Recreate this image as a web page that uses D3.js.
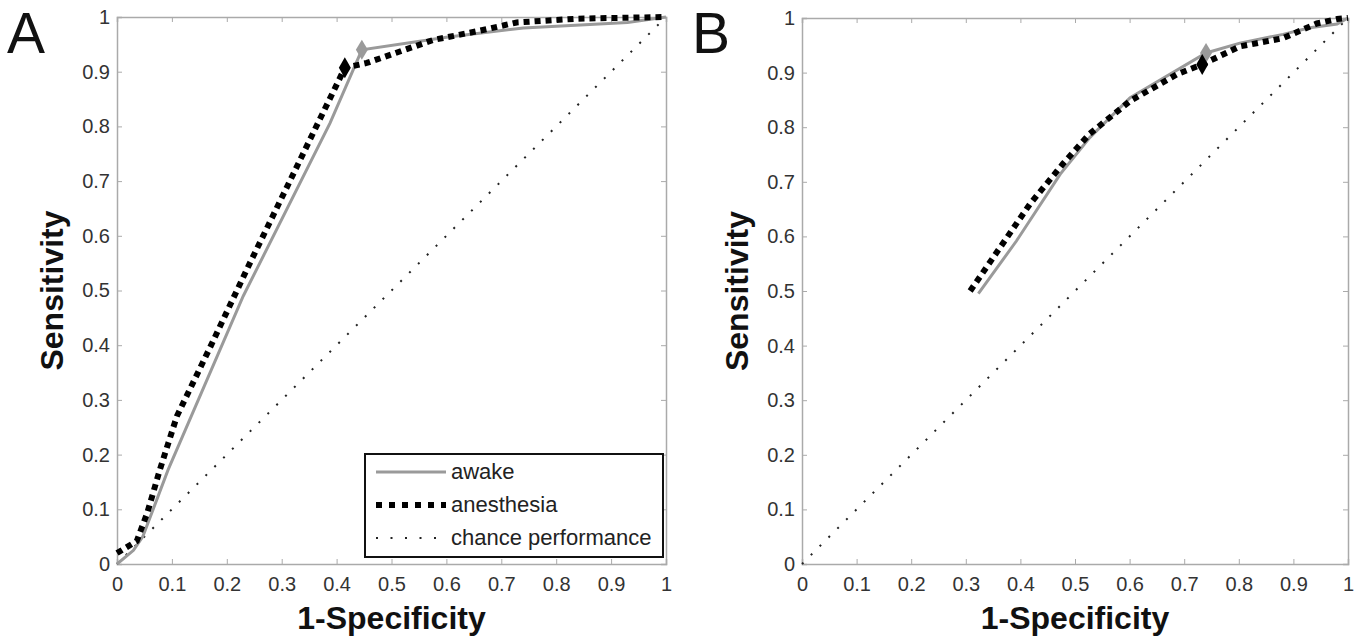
<!DOCTYPE html>
<html>
<head>
<meta charset="utf-8">
<style>
  body { margin: 0; background: #fff; }
  svg { display: block; font-family: "Liberation Sans", Arial, Helvetica, sans-serif; }
  .tick text { fill: #333; font-size: 20px; }
</style>
</head>
<body>
<svg width="1366" height="641"></svg>
<script src="https://d3js.org/d3.v7.min.js"></script>
<script>

// values: [1-specificity, sensitivity]
var awakeA = [[0, 0], [0.03, 0.025], [0.047, 0.05], [0.093, 0.172], [0.23, 0.49],
              [0.388, 0.806], [0.446, 0.94], [0.6, 0.963], [0.74, 0.98], [0.93, 0.99], [1, 1]];
var anesA = [[0, 0.02], [0.036, 0.042], [0.055, 0.093], [0.078, 0.172], [0.109, 0.27],
             [0.169, 0.395], [0.242, 0.55], [0.31, 0.69], [0.366, 0.806], [0.415, 0.907],
             [0.455, 0.916], [0.576, 0.958], [0.661, 0.975], [0.728, 0.99], [0.84, 0.997], [1, 1]];
var awakeB = [[0.323, 0.495], [0.393, 0.592], [0.473, 0.714], [0.527, 0.781], [0.601, 0.854],
              [0.74, 0.936], [0.802, 0.954], [0.881, 0.97], [0.93, 0.982], [0.98, 0.989], [1, 1]];
var anesB = [[0.308, 0.5], [0.363, 0.58], [0.418, 0.66], [0.478, 0.733], [0.527, 0.788],
             [0.601, 0.848], [0.687, 0.897], [0.733, 0.915], [0.802, 0.948], [0.881, 0.963],
             [0.943, 0.99], [0.98, 0.998], [1, 1]];
var chance = [[0, 0], [1, 1]];

// operating points (diamonds)
var opA = { awake: [0.446, 0.94], anes: [0.415, 0.907] };
var opB = { awake: [0.74, 0.936], anes: [0.733, 0.915] };

var ticks = d3.range(0, 11).map(function(i) { return i / 10; });
var tickLabels = ["0", "0.1", "0.2", "0.3", "0.4", "0.5", "0.6", "0.7", "0.8", "0.9", "1"];
var legendItems = ["awake", "anesthesia", "chance performance"];

var svg = d3.select("svg");
var grey = "#9a9a9a";

function diamond(w, h) {
  return "M0," + (-h / 2) + "L" + (w / 2) + ",0L0," + (h / 2) + "L" + (-w / 2) + ",0Z";
}

function panel(letter, box, awake, anes, op, legend) {
  var x = d3.scaleLinear().domain([0, 1]).range([box.left, box.right]);
  var y = d3.scaleLinear().domain([0, 1]).range([box.bottom, box.top]);
  var fmt = function(d, i) { return tickLabels[i]; };

  var g = svg.append("g");

  // box + inward ticks (matlab style)
  var bottom = g.append("g").attr("transform", "translate(0," + box.bottom + ")")
    .call(d3.axisBottom(x).tickValues(ticks).tickFormat(fmt).tickSize(-5).tickPadding(10));
  var top = g.append("g").attr("transform", "translate(0," + box.top + ")")
    .call(d3.axisTop(x).tickValues(ticks).tickFormat("").tickSize(-5));
  var left = g.append("g").attr("transform", "translate(" + box.left + ",0)")
    .call(d3.axisLeft(y).tickValues(ticks).tickFormat(fmt).tickSize(-5).tickPadding(6));
  var right = g.append("g").attr("transform", "translate(" + box.right + ",0)")
    .call(d3.axisRight(y).tickValues(ticks).tickFormat("").tickSize(-5));
  [bottom, top, left, right].forEach(function(a) {
    a.select(".domain").attr("stroke", "#aaa").attr("stroke-width", 1.5);
    a.selectAll(".tick line").attr("stroke", "#aaa");
  });
  bottom.selectAll(".tick text").attr("dy", "0.85em");
  left.selectAll(".tick text").attr("dx", "-1px");

  var line = d3.line().x(function(d) { return x(d[0]); }).y(function(d) { return y(d[1]); });

  g.append("path").datum(chance).attr("d", line)
    .attr("fill", "none").attr("stroke", "#222").attr("stroke-width", 2)
    .attr("stroke-dasharray", "2,10.5");
  g.append("path").datum(awake).attr("d", line)
    .attr("fill", "none").attr("stroke", grey).attr("stroke-width", 3);
  g.append("path").datum(anes).attr("d", line)
    .attr("fill", "none").attr("stroke", "#000").attr("stroke-width", 6)
    .attr("stroke-dasharray", "6,5");

  g.append("path").attr("d", diamond(12, 20))
    .attr("transform", "translate(" + x(op.awake[0]) + "," + y(op.awake[1]) + ")")
    .attr("fill", grey);
  g.append("path").attr("d", diamond(12, 21))
    .attr("transform", "translate(" + x(op.anes[0]) + "," + y(op.anes[1]) + ")")
    .attr("fill", "#000");

  // axis titles
  g.append("text").attr("x", (box.left + box.right) / 2).attr("y", 629)
    .attr("text-anchor", "middle").attr("font-size", 32).attr("font-weight", "bold")
    .attr("fill", "#111").text("1-Specificity");
  g.append("text").attr("transform", "translate(" + (box.left - 54) + "," + ((box.top + box.bottom) / 2) + ") rotate(-90)")
    .attr("text-anchor", "middle").attr("font-size", 32).attr("font-weight", "bold")
    .attr("fill", "#111").text("Sensitivity");

  g.append("text").attr("x", box.left - 110).attr("y", 53)
    .attr("font-size", 57).attr("fill", "#111").text(letter);

  if (legend) {
    var lg = g.append("g");
    lg.append("rect").attr("x", 365).attr("y", 454).attr("width", 298).attr("height", 103)
      .attr("fill", "#fff").attr("stroke", "#111").attr("stroke-width", 2);
    var styles = [
      { stroke: grey, w: 3, dash: null },
      { stroke: "#000", w: 6, dash: "6,7" },
      { stroke: "#222", w: 2, dash: "2,12.5" }
    ];
    legendItems.forEach(function(name, i) {
      var yy = 472 + i * 33;
      var s = styles[i];
      lg.append("line").attr("x1", 376).attr("x2", 446).attr("y1", yy).attr("y2", yy)
        .attr("stroke", s.stroke).attr("stroke-width", s.w)
        .attr("stroke-dasharray", s.dash);
      lg.append("text").attr("x", 451).attr("y", yy + 7).attr("font-size", 22)
        .attr("fill", "#222").text(name);
    });
  }
}

panel("A", { left: 117, right: 666, top: 17, bottom: 564 }, awakeA, anesA, opA, true);
panel("B", { left: 802, right: 1348, top: 18, bottom: 564 }, awakeB, anesB, opB, false);

</script>
</body>
</html>
